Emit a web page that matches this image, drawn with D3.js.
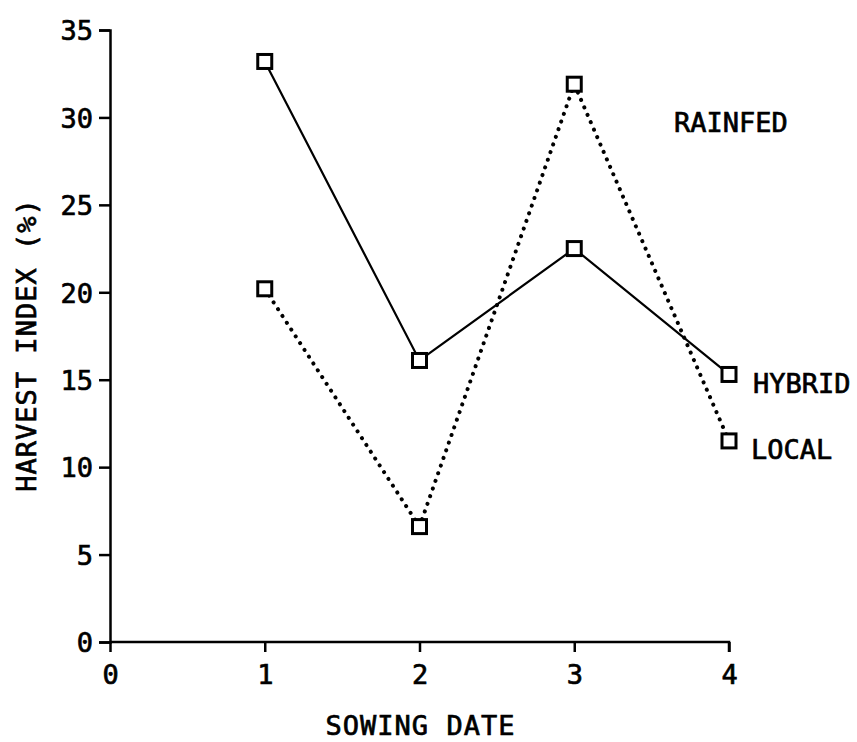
<!DOCTYPE html>
<html>
<head>
<meta charset="utf-8">
<script src="https://cdn.jsdelivr.net/npm/d3@7"></script>
<style>
  body { margin: 0; background: #fff; }
  text { font-family: "DejaVu Sans Mono", monospace; fill: #000; stroke: #000; stroke-width: 0.7px; }
</style>
</head>
<body>
<script>
// data
var sowingDates = [1, 2, 3, 4];
var hybrid = [33.2, 16.1, 22.5, 15.3];
var local = [20.2, 6.6, 31.9, 11.5];
var xTicks = [0, 1, 2, 3, 4];
var yTicks = [0, 5, 10, 15, 20, 25, 30, 35];

var width = 857, height = 742;
var margin = {left: 110, top: 30, right: 128, bottom: 100};

var svg = d3.select("body").append("svg")
  .attr("width", width)
  .attr("height", height);

var x = d3.scaleLinear().domain([0, 4]).range([margin.left, width - margin.right]);
var y = d3.scaleLinear().domain([0, 35]).range([height - margin.bottom, margin.top]);

// y axis
var yAxis = svg.append("g")
  .attr("transform", "translate(" + margin.left + ",0)")
  .call(d3.axisLeft(y).tickValues(yTicks).tickSize(11).tickPadding(6).tickFormat(d3.format("d")));
yAxis.selectAll("path, line").attr("stroke", "#000").attr("stroke-width", 2.5);
yAxis.selectAll("text").style("font-size", "27px").attr("dy", "0.36em");

// x axis
var xAxis = svg.append("g")
  .attr("transform", "translate(0," + y(0) + ")")
  .call(d3.axisBottom(x).tickValues(xTicks).tickSize(10).tickPadding(13).tickFormat(d3.format("d")));
xAxis.selectAll("path, line").attr("stroke", "#000").attr("stroke-width", 2.5);
xAxis.select(".domain").attr("d", "M" + x(0) + ",0H" + x(4) + "V10");
xAxis.selectAll("text").style("font-size", "27px");

// axis titles
svg.append("text")
  .attr("x", x(2) + 1)
  .attr("y", 735)
  .attr("text-anchor", "middle")
  .style("font-size", "27px")
  .style("letter-spacing", "1px")
  .text("SOWING DATE");

svg.append("text")
  .attr("transform", "translate(36,345) rotate(-90)")
  .attr("text-anchor", "middle")
  .style("font-size", "27px")
  .style("letter-spacing", "1px")
  .text("HARVEST INDEX (%)");

// lines
var line = d3.line()
  .x(function(d, i) { return x(sowingDates[i]); })
  .y(function(d) { return y(d); });

svg.append("path")
  .datum(hybrid)
  .attr("class", "hybrid")
  .attr("d", line)
  .attr("fill", "none")
  .attr("stroke", "#000")
  .attr("stroke-width", 2.2);

svg.append("path")
  .datum(local)
  .attr("class", "local")
  .attr("d", line)
  .attr("fill", "none")
  .attr("stroke", "#000")
  .attr("stroke-width", 4)
  .attr("stroke-linecap", "round")
  .attr("stroke-dasharray", "0.1 8");

// square markers
[hybrid, local].forEach(function(series) {
  svg.selectAll(null)
    .data(series)
    .enter().append("rect")
    .attr("x", function(d, i) { return x(sowingDates[i]) - 7; })
    .attr("y", function(d) { return y(d) - 7; })
    .attr("width", 14)
    .attr("height", 14)
    .attr("fill", "#fff")
    .attr("stroke", "#000")
    .attr("stroke-width", 3);
});

// labels
svg.append("text")
  .attr("x", 753)
  .attr("y", y(hybrid[3]) + 18.5)
  .style("font-size", "27px")
  .text("HYBRID");

svg.append("text")
  .attr("x", 751)
  .attr("y", y(local[3]) + 18.5)
  .style("font-size", "27px")
  .text("LOCAL");

svg.append("text")
  .attr("x", 674)
  .attr("y", 132)
  .style("font-size", "27px")
  .text("RAINFED");
</script>
</body>
</html>
